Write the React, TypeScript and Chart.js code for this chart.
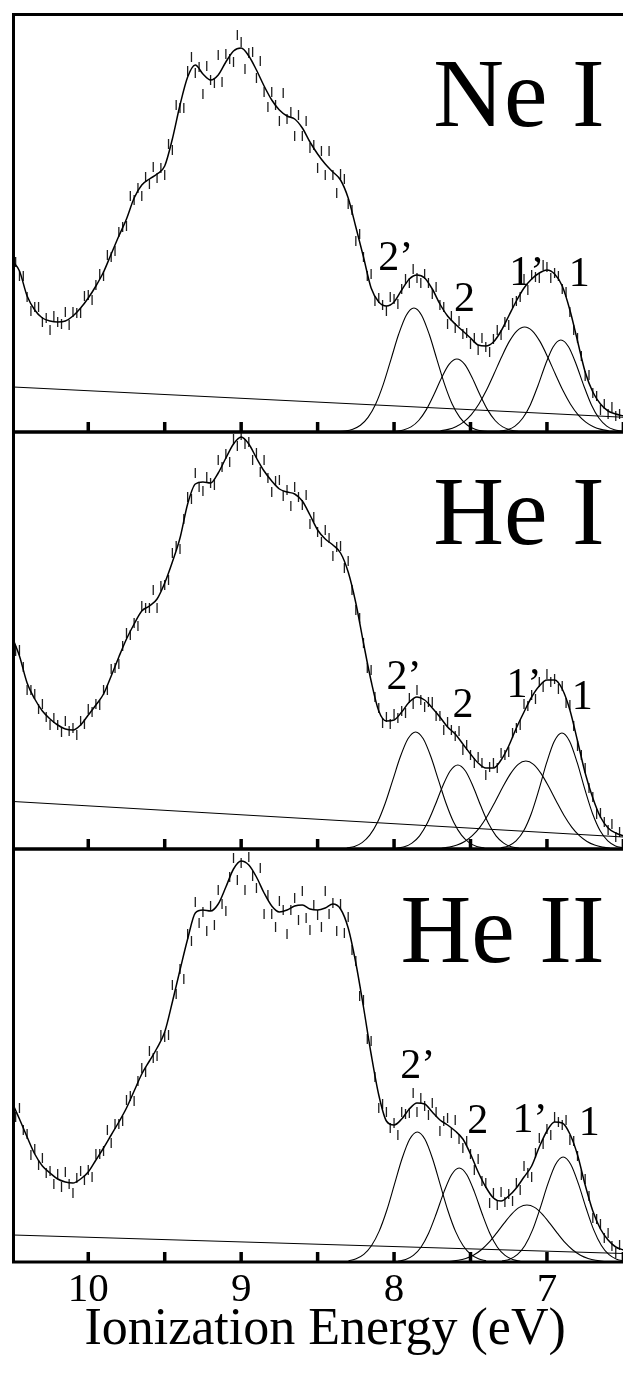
import React, { useEffect, useRef } from "react";
import { Chart, registerables } from "chart.js";

Chart.register(...registerables);

const SERIF = '"Liberation Serif", "Times New Roman", Times, serif';

// energy grids (eV)
const FIT_START = 10.5;
const FIT_STEP = 0.05;
const DATA_START = 10.475;
const DATA_STEP = 0.025;
const GAUSS_STEP = 0.05;
const X_MIN = 6.413;
const X_MAX = 10.489;
const TICK_STEP = 0.5;
const AXIS_TITLE = "Ionization Energy (eV)";

// ---------- Ne I ----------
const NE_FIT = [172,161,136,122,114,111,110,111,116,124,134,146,160,178,196,213,234,247,253,258,266,293,327,355,367,358,352,357,370,381,384,376,362,346,332,322,316,313,304,290,278,268,260,252,234,205,175,144,130,126,130,142,153,157,154,143,128,116,108,101,94,87,86,90,101,116,131,144,153,159,162,158,146,122,91,60,40,28,21,18,16];
const NE_DATA = [170,156,156,135,121,125,125,110,114,102,116,110,108,120,107,120,119,119,136,137,132,147,158,156,177,175,181,200,205,206,236,232,244,236,255,248,265,254,264,257,288,282,327,324,324,361,375,359,365,338,366,352,349,377,350,378,373,370,397,390,363,379,380,354,371,340,325,340,327,311,339,313,320,296,317,296,311,284,287,264,281,257,281,257,239,258,253,228,222,191,198,175,156,158,131,134,127,121,135,133,128,143,153,149,163,154,149,158,149,138,145,127,125,108,116,104,111,98,99,88,94,82,94,85,80,93,102,97,110,107,129,131,135,153,142,157,155,154,167,165,154,159,156,143,140,120,102,94,76,56,57,39,36,22,28,18,25,16,18];
const NE_BASE_E = [10.49, 6.5];
const NE_BASE = [45, 14.7];
const NE_G_CENTERS = [7.87, 7.589, 7.146, 6.909];
const NE_G_2P = [0.3,1.0,2.8,6.7,14.6,28.0,47.9,72.7,97.7,116.8,124,116.8,97.7,72.7,47.9,28.0,14.6,6.7,2.8,1.0,0.3];
const NE_G_2 = [0.6,2.0,5.1,11.5,22.4,37.5,54.3,67.8,73,67.8,54.3,37.5,22.4,11.5,5.1,2.0,0.6];
const NE_G_1P = [1.2,2.6,5.3,9.9,17.2,27.8,41.7,58.2,75.3,90.6,101.2,105,101.2,90.6,75.3,58.2,41.7,27.8,17.2,9.9,5.3,2.6,1.2];
const NE_G_1 = [0.7,2.2,5.9,13.7,27.1,46.3,67.8,85.3,92,85.3,67.8,46.3,27.1,13.7,5.9,2.2,0.7];
const NE_LABEL_TEXT = ["Ne I", "2’", "2", "1’", "1"];
const NE_LABEL_E = [6.623, 8.104, 7.608, 7.246, 6.857];
const NE_LABEL_V = [306, 162, 121, 147, 146];

// ---------- He I ----------
const HEI_FIT = [213,193,166,150,138,130,124,120,119,124,134,144,155,173,192,210,225,238,243,250,266,287,311,345,365,367,366,376,391,405,412,405,391,378,368,360,357,355,348,334,319,310,304,296,277,246,206,168,138,128,129,137,147,152,149,141,132,122,115,105,95,86,81,81,89,103,121,137,152,163,169,169,160,139,108,76,51,32,21,16,13];
const HEI_DATA = [198,199,182,159,159,155,140,145,132,124,131,124,117,128,118,121,114,128,125,140,137,145,144,159,159,180,181,185,203,216,214,226,223,243,241,241,259,241,263,264,269,296,303,300,330,352,350,376,362,358,372,366,364,389,382,395,387,410,403,414,405,407,389,396,377,389,371,357,368,369,353,359,343,362,352,344,354,325,332,317,307,319,311,293,302,303,281,288,259,239,231,206,181,179,152,141,126,132,125,135,131,138,136,151,145,159,149,142,147,147,133,133,119,127,119,113,118,99,104,94,86,92,86,74,82,86,81,96,94,97,116,121,124,145,143,154,150,167,162,175,167,170,160,163,146,144,123,103,94,81,61,52,35,36,27,19,25,12,17];
const HEI_BASE_E = [10.49, 6.5];
const HEI_BASE = [47.5, 12];
const HEI_G_CENTERS = [7.859, 7.583, 7.138, 6.902];
const HEI_G_2P = [0.9,2.6,6.4,13.8,26.4,45.2,68.6,92.2,110.2,117,110.2,92.2,68.6,45.2,26.4,13.8,6.4,2.6,0.9];
const HEI_G_2 = [0.7,2.2,5.9,13.2,25.7,43.2,62.5,78.0,84,78.0,62.5,43.2,25.7,13.2,5.9,2.2,0.7];
const HEI_G_1P = [0.8,1.9,3.9,7.5,13.3,21.9,33.5,47.5,62.2,75.4,84.7,88,84.7,75.4,62.2,47.5,33.5,21.9,13.3,7.5,3.9,1.9,0.8];
const HEI_G_1 = [1.0,3.1,8.1,18.2,35.5,59.6,86.3,107.8,116,107.8,86.3,59.6,35.5,18.2,8.1,3.1,1.0];
const HEI_LABEL_TEXT = ["He I", "2’", "2", "1’", "1"];
const HEI_LABEL_E = [6.623, 8.05, 7.618, 7.265, 6.838];
const HEI_LABEL_V = [305, 160, 132, 152, 140];

// ---------- He II ----------
const HEII_FIT = [160,143,125,108,96,89,83,80,79,83,90,102,114,127,140,154,171,188,201,214,230,260,292,323,349,352,351,358,375,393,401,397,385,369,356,350,352,356,357,353,352,354,358,353,334,299,255,208,167,141,137,143,153,159,158,150,142,137,131,123,108,90,75,64,61,66,74,85,96,115,131,140,139,128,107,77,51,33,22,15,12];
const HEII_DATA = [145,154,132,128,107,113,97,104,89,91,78,88,75,90,78,69,84,91,82,92,85,108,108,111,132,119,138,138,141,162,166,161,181,194,190,211,204,206,227,225,227,277,268,293,283,328,321,360,339,350,331,356,337,372,358,351,385,404,382,399,372,405,386,374,394,348,367,348,335,361,352,328,352,364,342,371,344,332,357,347,335,371,348,359,331,358,329,345,312,301,266,262,223,221,185,154,158,150,134,139,127,150,148,149,169,150,164,156,147,159,150,131,141,144,129,142,123,114,121,108,92,103,81,79,59,69,57,70,60,68,61,79,72,96,89,85,109,124,118,133,127,145,140,137,142,122,121,106,87,83,66,44,43,38,24,29,16,9,17];
const HEII_BASE_E = [10.49, 6.5];
const HEII_BASE = [27, 8.5];
const HEII_G_CENTERS = [7.848, 7.574, 7.131, 6.894];
const HEII_G_2P = [1.2,3.2,7.6,16.2,30.6,51.5,77.3,103.2,122.7,130,122.7,103.2,77.3,51.5,30.6,16.2,7.6,3.2,1.2];
const HEII_G_2 = [0.8,2.5,6.6,14.8,28.8,48.3,69.9,87.3,94,87.3,69.9,48.3,28.8,14.8,6.6,2.5,0.8];
const HEII_G_1P = [0.8,1.7,3.6,6.8,12.0,19.3,28.6,38.6,47.9,54.6,57,54.6,47.9,38.6,28.6,19.3,12.0,6.8,3.6,1.7,0.8];
const HEII_G_1 = [0.9,2.8,7.3,16.5,32.1,54.0,78.1,97.5,105,97.5,78.1,54.0,32.1,16.5,7.3,2.8,0.9];
const HEII_LABEL_TEXT = ["He II", "2’", "2", "1’", "1"];
const HEII_LABEL_E = [6.623, 7.959, 7.521, 7.226, 6.792];
const HEII_LABEL_V = [300, 184, 129, 130, 127];

type Panel = {
  fit: number[];
  data: number[];
  baseE: number[];
  base: number[];
  centers: number[];
  gauss: number[][];
  labelText: string[];
  labelE: number[];
  labelV: number[];
  yMax: number;
  top: number;
  height: number;
  padTop: number;
  padBottom: number;
  axis: boolean;
};

const PANELS: Panel[] = [
  { fit: NE_FIT, data: NE_DATA, baseE: NE_BASE_E, base: NE_BASE, centers: NE_G_CENTERS,
    gauss: [NE_G_2P, NE_G_2, NE_G_1P, NE_G_1], labelText: NE_LABEL_TEXT, labelE: NE_LABEL_E, labelV: NE_LABEL_V,
    yMax: 417.5, top: 0, height: 440, padTop: 14.5, padBottom: 8, axis: false },
  { fit: HEI_FIT, data: HEI_DATA, baseE: HEI_BASE_E, base: HEI_BASE, centers: HEI_G_CENTERS,
    gauss: [HEI_G_2P, HEI_G_2, HEI_G_1P, HEI_G_1], labelText: HEI_LABEL_TEXT, labelE: HEI_LABEL_E, labelV: HEI_LABEL_V,
    yMax: 417, top: 424, height: 440, padTop: 8, padBottom: 15, axis: false },
  { fit: HEII_FIT, data: HEII_DATA, baseE: HEII_BASE_E, base: HEII_BASE, centers: HEII_G_CENTERS,
    gauss: [HEII_G_2P, HEII_G_2, HEII_G_1P, HEII_G_1], labelText: HEII_LABEL_TEXT, labelE: HEII_LABEL_E, labelV: HEII_LABEL_V,
    yMax: 413, top: 841, height: 533, padTop: 8, padBottom: 0, axis: true },
];

const CANVAS_W = 643;

const framePlugin = {
  id: "frame",
  afterDraw(chart: any) {
    const { ctx, chartArea: a, scales } = chart;
    const xs = scales.x;
    ctx.save();
    ctx.strokeStyle = "#000";
    ctx.lineCap = "butt";
    ctx.lineWidth = 3;
    ctx.beginPath();
    ctx.moveTo(a.left, a.top - 1.5);
    ctx.lineTo(a.left, a.bottom + 1.5);
    ctx.moveTo(a.left - 1.5, a.top);
    ctx.lineTo(a.right, a.top);
    ctx.moveTo(a.left - 1.5, a.bottom);
    ctx.lineTo(a.right, a.bottom);
    ctx.stroke();
    ctx.lineWidth = 3.5;
    ctx.beginPath();
    (xs.ticks || []).forEach((t: any) => {
      const px = xs.getPixelForValue(t.value);
      ctx.moveTo(px, a.bottom);
      ctx.lineTo(px, a.bottom - 10);
    });
    ctx.stroke();
    ctx.restore();
  },
};

const labelPlugin = {
  id: "peakLabels",
  afterDraw(chart: any, _args: any, opts: any) {
    const { ctx, scales } = chart;
    const p: Panel = opts.panel;
    if (!p) return;
    ctx.save();
    ctx.fillStyle = "#000";
    ctx.textBaseline = "alphabetic";
    p.labelText.forEach((txt, i) => {
      const big = i === 0;
      ctx.font = `${big ? 98 : 42}px ${SERIF}`;
      ctx.textAlign = big ? "right" : "left";
      ctx.fillText(txt, scales.x.getPixelForValue(p.labelE[i]), scales.y.getPixelForValue(p.labelV[i]));
    });
    ctx.restore();
  },
};

function buildConfig(p: Panel): any {
  const lineStyle = {
    pointRadius: 0,
    borderColor: "#000",
    fill: false,
    cubicInterpolationMode: "monotone",
  };
  const datasets: any[] = [
    { ...lineStyle, borderWidth: 1.5, data: p.fit.map((v, i) => ({ x: FIT_START - FIT_STEP * i, y: v })) },
    { ...lineStyle, borderWidth: 1.1, data: p.base.map((v, i) => ({ x: p.baseE[i], y: v })) },
    ...p.gauss.map((g, gi) => {
      const mid = (g.length - 1) / 2;
      return { ...lineStyle, borderWidth: 1.1, data: g.map((v, k) => ({ x: p.centers[gi] + (mid - k) * GAUSS_STEP, y: v })) };
    }),
    {
      showLine: false,
      data: p.data.map((v, j) => ({ x: DATA_START - DATA_STEP * j, y: v })),
      pointStyle: "line",
      pointRotation: 90,
      pointRadius: 5,
      pointBorderWidth: 1.3,
      pointBorderColor: "#1e1e1e",
      pointBackgroundColor: "#1e1e1e",
    },
  ];
  return {
    type: "line",
    data: { datasets },
    options: {
      animation: false,
      responsive: false,
      devicePixelRatio: 1,
      events: [],
      layout: { padding: { left: 13.5, right: 0.5, top: p.padTop, bottom: p.padBottom } },
      plugins: {
        legend: { display: false },
        tooltip: { enabled: false },
        title: { display: false },
        peakLabels: { panel: p },
      },
      scales: {
        x: {
          type: "linear",
          reverse: true,
          min: X_MIN,
          max: X_MAX,
          display: true,
          border: { display: false },
          grid: { display: false, drawTicks: false, drawOnChartArea: false },
          ticks: {
            display: p.axis,
            stepSize: TICK_STEP,
            includeBounds: false,
            autoSkip: false,
            maxRotation: 0,
            minRotation: 0,
            padding: 4,
            color: "#000",
            font: { family: SERIF, size: 41 },
            callback: (v: number) => (Number.isInteger(v) ? String(v) : ""),
          },
          title: {
            display: p.axis,
            text: AXIS_TITLE,
            color: "#000",
            font: { family: SERIF, size: 52 },
            padding: { top: 0, bottom: 12 },
          },
          afterFit: (s: any) => {
            s.height = p.axis ? 112 : 0;
          },
        },
        y: { type: "linear", display: false, min: 0, max: p.yMax },
      },
    },
    plugins: [framePlugin, labelPlugin],
  };
}

export default function App() {
  const refs = useRef<(HTMLCanvasElement | null)[]>([]);
  useEffect(() => {
    let alive = true;
    const charts = PANELS.map((p, i) => new Chart(refs.current[i] as HTMLCanvasElement, buildConfig(p)));
    const redraw = () => {
      if (alive) charts.forEach((c) => c.update());
    };
    const fonts: any = (document as any).fonts;
    if (fonts) {
      Promise.all([
        fonts.load(`98px ${SERIF}`),
        fonts.load(`42px ${SERIF}`),
        fonts.load(`52px ${SERIF}`),
      ]).then(redraw, redraw);
      fonts.ready.then(redraw, redraw);
    }
    return () => {
      alive = false;
      charts.forEach((c) => c.destroy());
    };
  }, []);
  return (
    <div style={{ position: "absolute", left: 0, top: 0, width: 623, height: 1374, overflow: "hidden", background: "#fff", fontFamily: SERIF }}>
      {PANELS.map((p, i) => (
        <canvas
          key={i}
          ref={(el) => {
            refs.current[i] = el;
          }}
          width={CANVAS_W}
          height={p.height}
          style={{ position: "absolute", left: 0, top: p.top, width: CANVAS_W, height: p.height }}
        />
      ))}
    </div>
  );
}
